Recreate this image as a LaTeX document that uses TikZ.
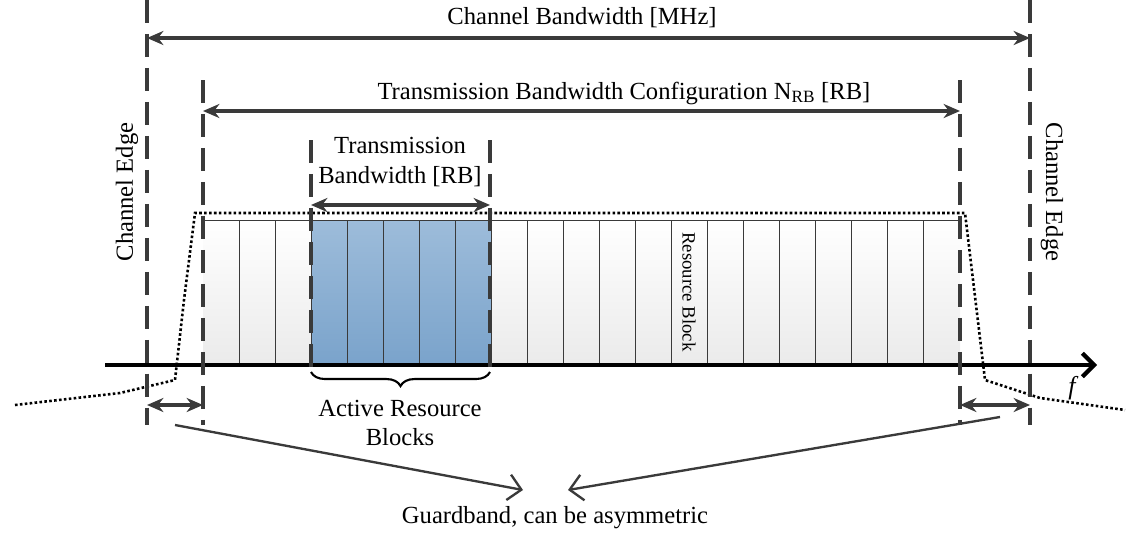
\documentclass[tikz,border=0pt]{standalone}
\usepackage{fontspec}
\setmainfont{Liberation Serif}
\usetikzlibrary{arrows.meta,decorations.pathreplacing}
\definecolor{edgegray}{HTML}{3A3A3A}
\definecolor{rbtop}{HTML}{9DBCDA}
\definecolor{rbbot}{HTML}{7AA3CB}
\tikzset{
  edge/.style={edgegray, line width=3.5pt, dash pattern=on 20pt off 9pt},
  span/.style={edgegray, line width=2.6pt, {Stealth[length=14pt, width=12pt]}-{Stealth[length=14pt, width=12pt]}},
  lbl/.style={font=\fontsize{21}{25}\selectfont, align=center},
}
\begin{document}
\begin{tikzpicture}[x=0.03cm, y=-0.03cm]
    \useasboundingbox (0,0) rectangle (1136,533);

    % Resource blocks
    \shade[top color=white, bottom color=black!8] (203,220) rectangle (960,365);
    \shade[top color=rbtop, bottom color=rbbot] (311,220) rectangle (491,365);
    \draw[edgegray, thin] (203,220) -- (960,220);
    \foreach \i in {1,...,20}
      \draw[edgegray, line width=0.8pt] (203+\i*36,220) -- (203+\i*36,365);
    \node[lbl, rotate=-90, font=\fontsize{16}{18}\selectfont] (rb) at (689,292) {Resource Block};

    % Spectrum mask
    \draw[black, line width=2.2pt, dotted]
      (15,405) -- (120,393) -- (175,380) -- (184,300) -- (195,213)
      -- (965,213) -- (985,380) -- (1040,398) -- (1125,410);

    % Frequency axis
    \draw[line width=3.5pt, -{Straight Barb[length=10pt]}] (105,365) -- (1097,365);
    \node[lbl, font=\fontsize{22}{24}\selectfont\itshape] (f) at (1072,388) {f};

    % Edges
    \draw[edge] (147,0) -- (147,425);
    \draw[edge] (1030,0) -- (1030,425);
    \draw[edge] (203,80) -- (203,425);
    \draw[edge] (960,80) -- (960,425);
    \draw[edge] (311,140) -- (311,375);
    \draw[edge] (490,140) -- (490,375);

    % Bandwidth spans
    \coordinate (cbl) at (147,38);  \coordinate (cbr) at (1030,38);
    \coordinate (tbl) at (203,111); \coordinate (tbr) at (960,111);
    \coordinate (abl) at (311,205); \coordinate (abr) at (490,205);
    \draw[span] (cbl) -- (cbr);
    \draw[span] (tbl) -- (tbr);
    \draw[span] (abl) -- (abr);
    \node[lbl] (cb) at (582,18) {Channel Bandwidth [MHz]};
    \node[lbl] (tbc) at (624,93) {Transmission Bandwidth Configuration N\textsubscript{RB} [RB]};
    \node[lbl] (tb) at (400,162) {Transmission\\Bandwidth [RB]};
    \node[lbl, rotate=90] (cel) at (127,192) {Channel Edge};
    \node[lbl, rotate=-90] (cer) at (1052,192) {Channel Edge};

    % Active blocks
    \draw[line width=1.8pt, decorate, decoration={brace, mirror, amplitude=12pt}]
      (311,372) -- (490,372);
    \node[lbl] (arb) at (400,423) {Active Resource\\Blocks};

    % Guardbands
    \coordinate (gll) at (147,405); \coordinate (glr) at (203,405);
    \coordinate (grl) at (960,405); \coordinate (grr) at (1030,405);
    \draw[span] (gll) -- (glr);
    \draw[span] (grl) -- (grr);
    \node[lbl] (gb) at (555,518) {Guardband, can be asymmetric};
    \coordinate (gls) at (175,425); \coordinate (grs) at (1000,417);
    \draw[edgegray, line width=2pt, -{Straight Barb[length=11pt]}] (gls) -- (523,490);
    \draw[edgegray, line width=2pt, -{Straight Barb[length=11pt]}] (grs) -- (568,490);
\end{tikzpicture}
\end{document}
